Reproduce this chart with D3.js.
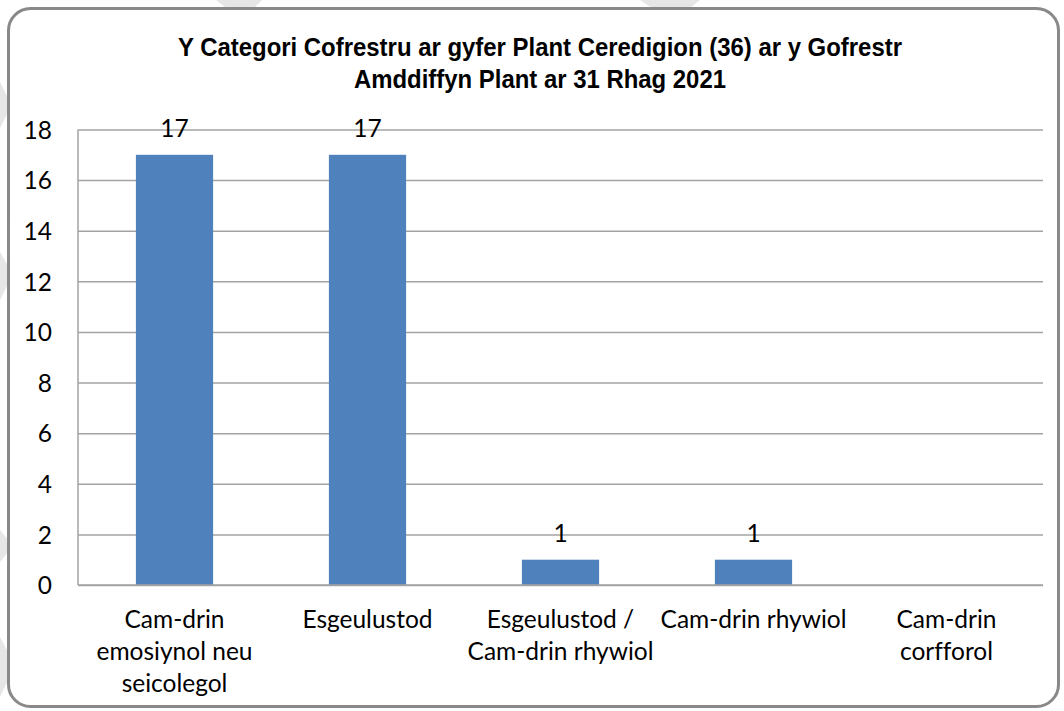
<!DOCTYPE html>
<html>
<head>
<meta charset="utf-8">
<script src="https://cdn.jsdelivr.net/npm/d3@7"></script>
<style>
  html, body { margin: 0; padding: 0; background: #ffffff; }
  svg { display: block; }
  text { font-variant-ligatures: none; }
</style>
</head>
<body>
<svg id="chart" width="1064" height="711"></svg>
<script>
// ---- data ----
const titleLines = ["Y Categori Cofrestru ar gyfer Plant Ceredigion (36) ar y Gofrestr", "Amddiffyn Plant ar 31 Rhag 2021"];
const categories = ["Cam-drin emosiynol neu seicolegol", "Esgeulustod", "Esgeulustod / Cam-drin rhywiol", "Cam-drin rhywiol", "Cam-drin corfforol"];
const categoryLines = [["Cam-drin", "emosiynol neu", "seicolegol"], ["Esgeulustod"], ["Esgeulustod /", "Cam-drin rhywiol"], ["Cam-drin rhywiol"], ["Cam-drin", "corfforol"]];
const values = [17, 17, 1, 1, null];
const yTicks = [0, 2, 4, 6, 8, 10, 12, 14, 16, 18];

// ---- layout ----
const W = 1064, H = 711;
const plot = { left: 78, right: 1043, top: 129.5, bottom: 585 };
const labelFont = "Lato, 'Open Sans', sans-serif";
const labelSize = 24.5;
const svg = d3.select("#chart");

// faint background watermark slivers outside the frame
const wm = [
  [[0,82],[8,98],[8,112],[0,128]],
  [[0,252],[8,266],[8,284],[0,300]],
  [[0,530],[8,540],[8,552],[0,562]],
  [[0,637],[8,652],[8,680],[0,697]],
  [[216,0],[262,0],[254,8],[226,8]],
  [[640,0],[700,0],[690,8],[652,8]]
];
svg.append("g").selectAll("polygon").data(wm).join("polygon")
  .attr("points", d => d.map(p => p.join(",")).join(" "))
  .attr("fill", "#e6e6e6");

// frame
svg.append("rect")
  .attr("x", 8.5).attr("y", 8.5)
  .attr("width", 1050).attr("height", 698)
  .attr("rx", 22).attr("ry", 22)
  .attr("fill", "#ffffff")
  .attr("stroke", "#898989").attr("stroke-width", 3);

// title
const title = svg.append("g")
  .attr("font-family", "'Liberation Sans Narrow', 'Liberation Sans', Arial, sans-serif")
  .attr("font-weight", "bold").attr("font-size", 25).attr("fill", "#000");
const titleY = [56, 88];
const titleW = [724, 372];
titleLines.forEach((t, i) => {
  title.append("text")
    .attr("x", 540).attr("y", titleY[i])
    .attr("text-anchor", "middle")
    .attr("textLength", titleW[i])
    .attr("lengthAdjust", "spacingAndGlyphs")
    .text(t);
});

// scales
const x = d3.scaleBand().domain(categories)
  .range([plot.left, plot.right]).paddingInner(0.6).paddingOuter(0.3);
const y = d3.scaleLinear().domain([0, 18]).range([plot.bottom, plot.top]);

// gridlines
const yAxis = d3.axisLeft(y).tickValues(yTicks)
  .tickSize(-(plot.right - plot.left)).tickPadding(26)
  .tickFormat(d3.format("d"));
const gy = svg.append("g").attr("transform", `translate(${plot.left},0)`).call(yAxis);
gy.select(".domain").remove();
gy.selectAll(".tick line").attr("stroke", "#a3a3a3").attr("stroke-width", 1.5);
gy.selectAll(".tick text")
  .attr("font-family", labelFont).attr("font-size", labelSize).attr("fill", "#000")
  .attr("dy", "0.36em");

// left axis line
svg.append("line")
  .attr("x1", plot.left).attr("x2", plot.left)
  .attr("y1", y(18)).attr("y2", y(0))
  .attr("stroke", "#a3a3a3").attr("stroke-width", 1.5);

// bars
const data = categories.map((c, i) => ({ c, v: values[i], lines: categoryLines[i] }));
svg.append("g").selectAll("rect").data(data.filter(d => d.v != null)).join("rect")
  .attr("x", d => x(d.c)).attr("width", x.bandwidth())
  .attr("y", d => y(d.v)).attr("height", d => y(0) - y(d.v))
  .attr("fill", "#4F81BD");

// zero line on top
svg.append("line")
  .attr("x1", plot.left).attr("x2", plot.right)
  .attr("y1", y(0)).attr("y2", y(0))
  .attr("stroke", "#a3a3a3").attr("stroke-width", 1.5);

// value labels
svg.append("g").selectAll("text").data(data.filter(d => d.v != null)).join("text")
  .attr("x", d => x(d.c) + x.bandwidth() / 2)
  .attr("y", d => y(d.v) - 18)
  .attr("text-anchor", "middle")
  .attr("font-family", labelFont).attr("font-size", labelSize).attr("fill", "#000")
  .text(d => d.v);

// category labels
const xl = svg.append("g").attr("font-family", labelFont).attr("font-size", labelSize).attr("fill", "#000");
data.forEach(d => {
  const t = xl.append("text")
    .attr("text-anchor", "middle")
    .attr("x", x(d.c) + x.bandwidth() / 2)
    .attr("y", 628);
  d.lines.forEach((ln, j) => {
    t.append("tspan")
      .attr("x", x(d.c) + x.bandwidth() / 2)
      .attr("y", 628 + j * 32)
      .text(ln);
  });
});
</script>
</body>
</html>
